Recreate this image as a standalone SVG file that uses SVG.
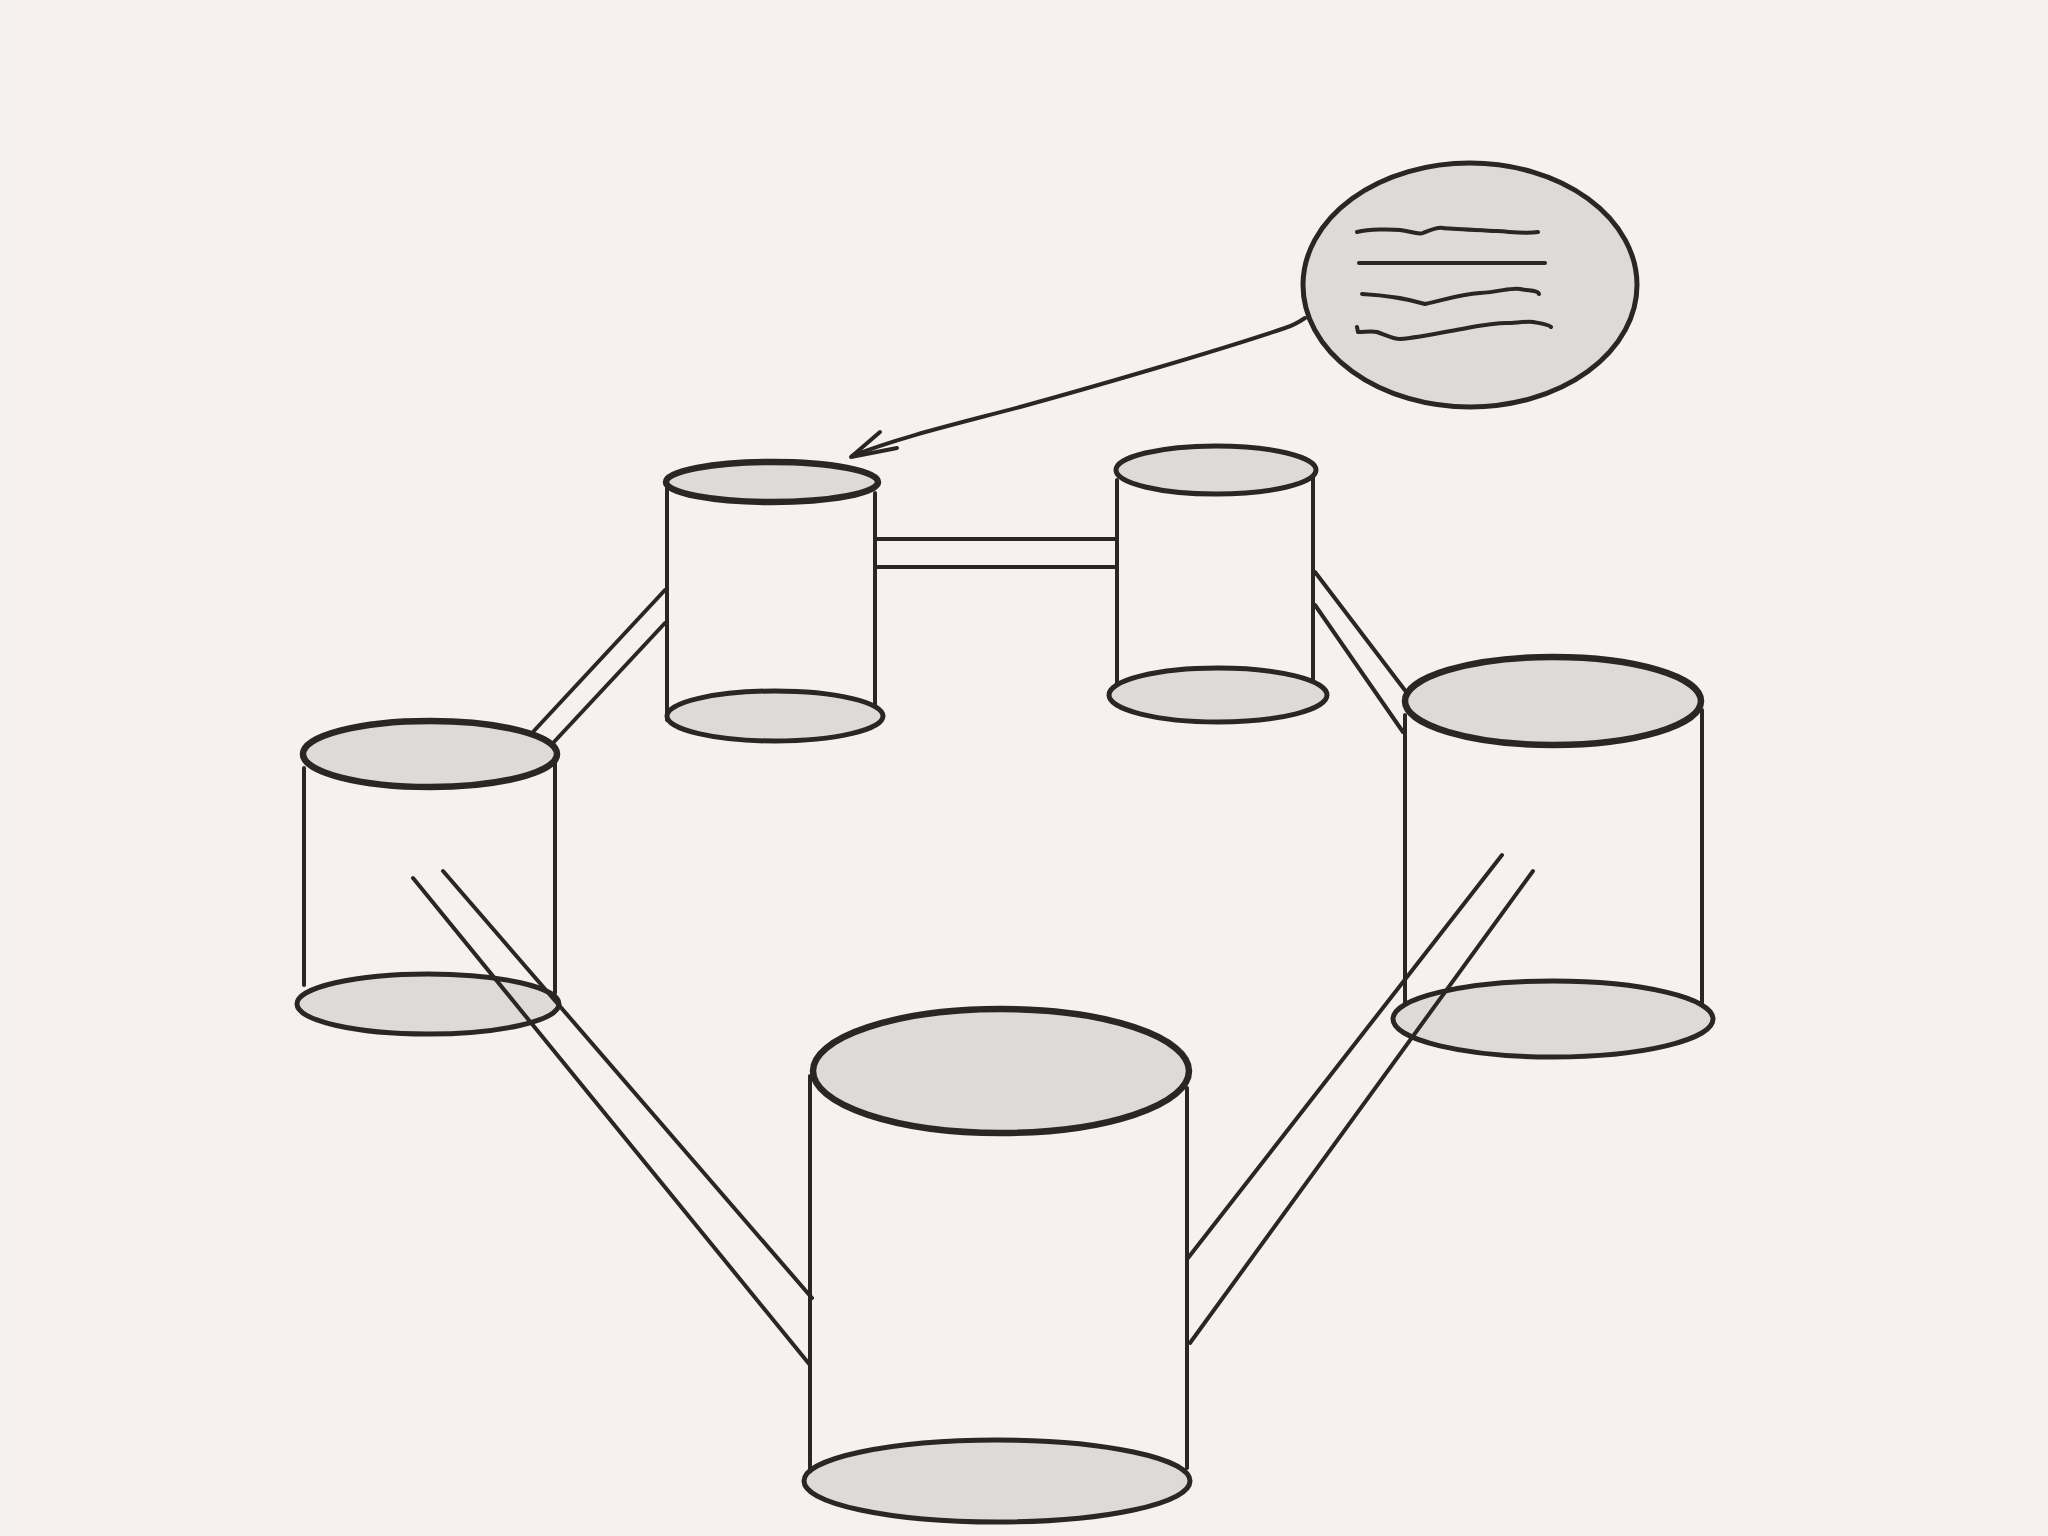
<svg xmlns="http://www.w3.org/2000/svg" width="2048" height="1536" viewBox="0 0 2048 1536">
<style>
.cap{fill:#dedad7;stroke:#2a2626;stroke-width:5}
.capb{fill:#dedad7;stroke:#2a2626;stroke-width:6.5}
.side{fill:none;stroke:#2a2626;stroke-width:4;stroke-linecap:round}
.con{fill:none;stroke:#2a2626;stroke-width:4;stroke-linecap:round}
.txt{fill:none;stroke:#2a2626;stroke-width:4;stroke-linecap:round;stroke-linejoin:round}
</style>
<rect x="0" y="0" width="2048" height="1536" fill="#f6f1f0"/>
<rect x="0" y="0" width="14" height="1536" fill="#f3f2ef"/>

<g id="cyl-top-left">
  <line class="side" x1="667" y1="484" x2="667" y2="720"/>
  <line class="side" x1="875" y1="493" x2="875" y2="707"/>
  <ellipse class="cap" cx="775" cy="716" rx="108" ry="25"/>
  <ellipse class="capb" cx="772" cy="482" rx="106" ry="20"/>
</g>

<g id="cyl-top-right">
  <line class="side" x1="1117" y1="480" x2="1117" y2="683"/>
  <line class="side" x1="1313" y1="473" x2="1313" y2="680"/>
  <ellipse class="cap" cx="1218" cy="695" rx="109" ry="27"/>
  <ellipse class="cap" cx="1216" cy="470" rx="100" ry="24"/>
</g>

<g id="cyl-left">
  <line class="side" x1="304" y1="768" x2="304" y2="985"/>
  <line class="side" x1="555" y1="762" x2="555" y2="993"/>
  <ellipse class="cap" cx="428" cy="1004" rx="131" ry="30"/>
  <ellipse class="capb" cx="430" cy="754" rx="127" ry="33"/>
</g>

<g id="cyl-right">
  <line class="side" x1="1405" y1="715" x2="1405" y2="1010"/>
  <line class="side" x1="1702" y1="710" x2="1702" y2="1020"/>
  <ellipse class="cap" cx="1553" cy="1019" rx="160" ry="38"/>
  <ellipse class="capb" cx="1553" cy="701" rx="148" ry="44"/>
</g>

<g id="cyl-bottom">
  <line class="side" x1="810" y1="1076" x2="810" y2="1475"/>
  <line class="side" x1="1187" y1="1088" x2="1187" y2="1468"/>
  <ellipse class="cap" cx="997" cy="1481" rx="193" ry="41"/>
  <ellipse class="capb" cx="1001" cy="1071" rx="188" ry="62"/>
</g>

<g id="note-bubble">
  <ellipse class="cap" cx="1470" cy="285" rx="167" ry="122"/>
  <path class="txt" d="M1357,232 C1370,229 1390,229 1400,230 S1418,235 1423,233 S1437,227 1443,228 S1480,230 1497,231 S1525,234 1538,232"/>
  <path class="txt" d="M1359,263 L1545,263"/>
  <path class="txt" d="M1362,294 C1380,295 1405,298 1425,304 C1440,301 1460,294 1480,293 S1512,287 1520,289 S1538,290 1539,294"/>
  <path class="txt" d="M1357,327 L1358,332 C1365,332 1372,331 1377,332 C1388,336 1393,339 1400,339 C1415,338 1440,333 1467,328 S1500,323 1507,323 S1528,321 1533,322 S1548,324 1551,327"/>
</g>

<g id="connectors">
  <line class="con" x1="875" y1="539" x2="1117" y2="539"/>
  <line class="con" x1="875" y1="567" x2="1117" y2="567"/>
  <line class="con" x1="665" y1="590" x2="532" y2="733"/>
  <line class="con" x1="665" y1="623" x2="553" y2="743"/>
  <line class="con" x1="1315" y1="572" x2="1407" y2="693"/>
  <line class="con" x1="1315" y1="605" x2="1403" y2="732"/>
  <line class="con" x1="413" y1="878" x2="810" y2="1365"/>
  <line class="con" x1="443" y1="871" x2="812" y2="1298"/>
  <line class="con" x1="1502" y1="855" x2="1188" y2="1258"/>
  <line class="con" x1="1533" y1="871" x2="1190" y2="1343"/>
  <path class="con" d="M1305,318 C1296,324 1292,326 1285,328 C1220,350 1100,385 1020,407 C960,423 900,437 852,456" stroke-width="4"/>
  <path class="con" d="M880,432 L851,457 L897,448" stroke-width="5" stroke-linejoin="round"/>
</g>
</svg>
